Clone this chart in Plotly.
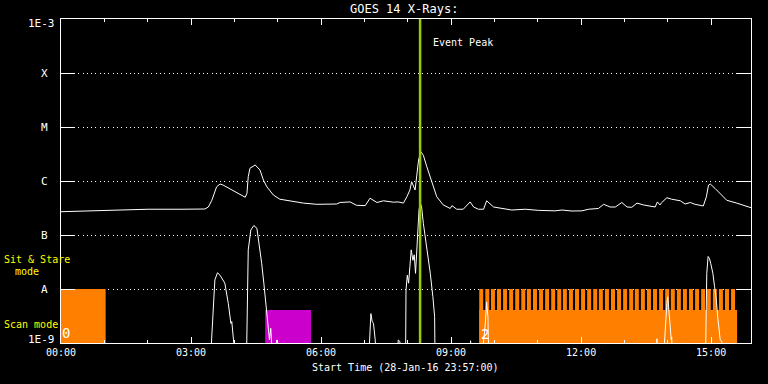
import math
import plotly.graph_objects as go

# ---------------- data ----------------
# long-wavelength channel (upper curve): time in hours from start, flux W/m^2
long_t = [0, 0.62, 1.02, 1.71, 2.01, 2.79, 3.32, 3.40, 3.48, 3.59, 3.67, 3.74, 3.94, 4.17, 4.25,
          4.29, 4.32, 4.36, 4.48, 4.59, 4.67, 4.75, 4.90, 5.05, 5.28, 5.59, 5.90, 6.36, 6.44, 6.67,
          6.82, 7.02, 7.13, 7.21, 7.29, 7.44, 7.67, 7.78, 7.90, 7.98, 8.05, 8.09, 8.13, 8.17, 8.21,
          8.25, 8.30, 8.36, 8.44, 8.56, 8.67, 8.82, 8.98, 9.02, 9.13, 9.28, 9.36, 9.44, 9.52, 9.63,
          9.75, 9.82, 9.98, 10.17, 10.40, 10.71, 11.02, 11.40, 11.56, 11.79, 12.02, 12.17, 12.40,
          12.52, 12.67, 12.79, 12.94, 13.06, 13.17, 13.29, 13.44, 13.71, 13.76, 13.82, 13.86, 13.98,
          14.09, 14.29, 14.40, 14.52, 14.63, 14.82, 14.89, 14.94, 14.98, 15.09, 15.21, 15.36, 15.59,
          15.75, 15.92]
long_f = [2.7e-7, 2.8e-7, 2.86e-7, 2.9e-7, 3.0e-7, 3.0e-7, 3.03e-7, 3.3e-7, 4.4e-7, 7.8e-7, 8.8e-7,
          8.4e-7, 6.8e-7, 5.5e-7, 5.0e-7, 5.9e-7, 1.2e-6, 1.72e-6, 1.98e-6, 1.6e-6, 1.04e-6, 7.8e-7,
          5.5e-7, 4.6e-7, 4.3e-7, 3.9e-7, 3.7e-7, 3.75e-7, 4.0e-7, 4.1e-7, 3.55e-7, 3.5e-7, 4.8e-7,
          4.3e-7, 4.0e-7, 4.3e-7, 4.05e-7, 4.1e-7, 3.9e-7, 5.1e-7, 6.8e-7, 9.7e-7, 8.4e-7, 6.8e-7,
          1.29e-6, 2.45e-6, 3.5e-6, 3.0e-6, 1.84e-6, 9.1e-7, 5.1e-7, 3.6e-7, 3.1e-7, 3.5e-7, 3.0e-7,
          3.0e-7, 3.5e-7, 4.1e-7, 3.3e-7, 3.0e-7, 3.0e-7, 4.3e-7, 3.3e-7, 3.1e-7, 2.9e-7, 3.0e-7,
          2.86e-7, 2.8e-7, 2.9e-7, 2.78e-7, 2.8e-7, 3.0e-7, 3.1e-7, 3.7e-7, 3.3e-7, 3.3e-7, 4.0e-7,
          3.3e-7, 3.26e-7, 3.9e-7, 3.6e-7, 3.3e-7, 4.1e-7, 3.6e-7, 4.0e-7, 4.9e-7, 4.6e-7, 4.3e-7,
          3.75e-7, 4.0e-7, 3.7e-7, 3.45e-7, 5.1e-7, 8.4e-7, 8.8e-7, 7.3e-7, 5.9e-7, 4.4e-7, 3.9e-7,
          3.6e-7, 3.2e-7]

# short-wavelength channel (lower curve); mostly below 1E-9, None = gap
short_t = [3.45, 3.55, 3.61, 3.67, 3.78, 3.86, 3.92, 3.94, 3.98, 4.02, None,
           4.28, 4.29, 4.32, 4.38, 4.44, 4.45, 4.52, 4.55, 4.63, 4.68, 4.73, 4.76, 4.78, 4.81, 4.84, 4.86, 4.88, None,
           4.97, 4.98, 4.99, None,
           7.10, 7.15, 7.18, 7.21, 7.25, 7.27, None,
           7.77, 7.78, 7.82, 7.83, None,
           7.95, 7.96, 7.99, 8.02, 8.05, 8.08, 8.12, 8.15, 8.18, 8.21, 8.23, 8.26, 8.29, 8.32, 8.36, 8.44,
           8.52, 8.58, 8.62, 8.63, None,
           9.44, 9.45, 9.46, None,
           9.71, 9.79, 9.82, 9.85, 9.86, 9.88, None,
           13.74, 13.75, 13.76, None,
           13.90, 13.94, 13.98, 14.00, 14.02, 14.05, 14.08, 14.09, 14.11, None,
           14.87, 14.90, 14.93, 14.96, 14.99, 15.04, 15.08, 15.12, 15.15, 15.18, 15.21, 15.25, 15.27]
short_f = [5e-10, 1.47e-8, 2.0e-8, 1.8e-8, 1.28e-8, 5.4e-9, 2.3e-9, 2.5e-9, 1.14e-9, 5e-10, None,
           5e-10, 2.7e-9, 5.3e-8, 1.24e-7, 1.47e-7, 1.5e-7, 1.33e-7, 9.3e-8, 3.0e-8, 1.28e-8, 5.4e-9, 2.7e-9,
           2.0e-9, 1.14e-9, 1.87e-9, 1.14e-9, 5e-10, None,
           5e-10, 1.14e-9, 5e-10, None,
           5e-10, 3.5e-9, 2.5e-9, 2.3e-9, 1.14e-9, 5e-10, None,
           5e-10, 1.14e-9, 1.06e-9, 5e-10, None,
           5e-10, 9.6e-9, 1.8e-8, 1.28e-8, 2.6e-8, 5.3e-8, 3.4e-8, 4.3e-8, 1.95e-8, 5.3e-8, 1.07e-7, 2.9e-7,
           3.9e-7, 3.3e-7, 1.65e-7, 6.1e-8, 1.95e-8, 7.2e-9, 3.1e-9, 5e-10, None,
           5e-10, 1.1e-9, 5e-10, None,
           5e-10, 2.3e-9, 5.7e-9, 3.1e-9, 1.14e-9, 5e-10, None,
           5e-10, 1.2e-9, 5e-10, None,
           5e-10, 2.0e-9, 5.4e-9, 7.2e-9, 4.1e-9, 2.7e-9, 1.14e-9, 1.3e-9, 5e-10, None,
           5e-10, 1.95e-8, 4.0e-8, 3.7e-8, 3.0e-8, 1.95e-8, 1.1e-8, 6.3e-9, 3.1e-9, 1.74e-9, 1.14e-9,
           1.06e-9, 5e-10]

# observing-mode blocks (start h, end h, top flux, colour)
block_start = [0.0, 4.71, 9.646]
block_end = [1.03, 5.77, 15.60]
block_top = [1e-8, 4.1e-9, 4.1e-9]
block_color = ["#ff8000", "#cc00cc", "#ff8000"]

# sit & stare comb teeth (start h), each 0.092 h long, from 4.1E-9 to 1E-8
tooth_start = [9.65, 9.79, 9.92, 10.06, 10.20, 10.34, 10.48, 10.62, 10.75, 10.89, 11.03, 11.17,
               11.31, 11.45, 11.58, 11.72, 11.86, 12.00, 12.14, 12.28, 12.41, 12.55, 12.69, 12.83,
               12.97, 13.11, 13.24, 13.38, 13.52, 13.66, 13.80, 13.94, 14.07, 14.21, 14.35, 14.49,
               14.63, 14.77, 14.90, 15.04, 15.18, 15.32, 15.46]
tooth_len = 0.092
tooth_low, tooth_high = 4.1e-9, 1e-8

event_peak = 8.285

x_tick_hours = [0, 3, 6, 9, 12, 15]
x_tick_text = ["00:00", "03:00", "06:00", "09:00", "12:00", "15:00"]
x_minor_hours = [1, 2, 4, 5, 7, 8, 10, 11, 13, 14]
class_flux = [1e-8, 1e-7, 1e-6, 1e-5, 1e-4]
class_text = ["A", "B", "C", "M", "X"]

FONT = "DejaVu Sans Mono"
PW, PH, L, T = 690, 324, 61, 19

fig = go.Figure()

# blocks
for s, e, top, c in zip(block_start, block_end, block_top, block_color):
    fig.add_trace(go.Scatter(x=[s, e, e, s, s], y=[1e-9, 1e-9, top, top, 1e-9], mode="lines",
                             fill="toself", fillcolor=c, line=dict(width=0), hoverinfo="skip",
                             showlegend=False))
tx, ty = [], []
for s in tooth_start:
    tx += [s, s + tooth_len, s + tooth_len, s, s, None]
    ty += [tooth_low, tooth_low, tooth_high, tooth_high, tooth_low, None]
fig.add_trace(go.Scatter(x=tx, y=ty, mode="lines", fill="toself", fillcolor="#ff8000",
                         line=dict(width=0), hoverinfo="skip", showlegend=False))

# curves
fig.add_trace(go.Scatter(x=long_t, y=long_f, mode="lines", line=dict(color="white", width=1),
                         showlegend=False))
fig.add_trace(go.Scatter(x=short_t, y=short_f, mode="lines", line=dict(color="white", width=1),
                         connectgaps=False, showlegend=False))

# event peak line
fig.add_trace(go.Scatter(x=[event_peak, event_peak], y=[1e-9, 1e-3], mode="lines",
                         line=dict(color="#99cc00", width=2.5), showlegend=False))

ann = []
def paper_x(px):
    return (px - L) / PW
def paper_y(py):
    return (T + PH - py) / PH

ann.append(dict(text="GOES 14 X-Rays:", xref="paper", yref="paper", x=paper_x(404), y=paper_y(9),
                xanchor="center", yanchor="middle", showarrow=False, font=dict(size=12)))
ann.append(dict(text="Event Peak", xref="x", yref="y", x=8.53, y=-3.44, xanchor="left",
                yanchor="middle", showarrow=False, font=dict(size=10)))
ann.append(dict(text="0", xref="x", yref="y", x=0.115, y=-8.806, xanchor="center",
                yanchor="middle", showarrow=False, font=dict(size=14)))
ann.append(dict(text="2", xref="x", yref="y", x=9.78, y=-8.833, xanchor="center",
                yanchor="middle", showarrow=False, font=dict(size=14)))
for f, t in zip(class_flux, class_text):
    ann.append(dict(text=t, xref="paper", yref="y", x=paper_x(44), y=math.log10(f),
                    xanchor="center", yanchor="middle", showarrow=False, font=dict(size=11)))
ann.append(dict(text="1E-3", xref="paper", yref="y", x=paper_x(57), y=-3, yshift=-4,
                xanchor="right", yanchor="middle", showarrow=False, font=dict(size=11)))
ann.append(dict(text="1E-9", xref="paper", yref="y", x=paper_x(57), y=-9, yshift=3.5,
                xanchor="right", yanchor="middle", showarrow=False, font=dict(size=11)))
yel = dict(color="#ffff00", size=10, family=FONT)
ann.append(dict(text="Sit & Stare", xref="paper", yref="paper", x=paper_x(1.5), y=paper_y(259),
                xanchor="left", yanchor="middle", showarrow=False, font=yel))
ann.append(dict(text="mode", xref="paper", yref="paper", x=paper_x(12.5), y=paper_y(271),
                xanchor="left", yanchor="middle", showarrow=False, font=yel))
ann.append(dict(text="Scan mode", xref="paper", yref="paper", x=paper_x(1.5), y=paper_y(324),
                xanchor="left", yanchor="middle", showarrow=False, font=yel))
ann.append(dict(text="Start Time (28-Jan-16 23:57:00)", xref="paper", yref="paper",
                x=paper_x(405), y=paper_y(368), xanchor="center", yanchor="middle",
                showarrow=False, font=dict(size=10)))

fig.update_layout(
    width=768, height=384,
    margin=dict(l=L, r=768 - L - PW, t=T, b=384 - T - PH),
    paper_bgcolor="black", plot_bgcolor="black",
    font=dict(family=FONT, color="white", size=11),
    annotations=ann,
    xaxis=dict(range=[0, 15.92], showgrid=False, zeroline=False, showline=True, linecolor="white",
               linewidth=1, mirror="ticks", ticks="inside", ticklen=6, tickwidth=1,
               tickcolor="white", tickvals=x_tick_hours, ticktext=x_tick_text,
               tickfont=dict(color="white", size=10, family=FONT),
               minor=dict(tickvals=x_minor_hours, ticks="inside", ticklen=3, tickwidth=1,
                          tickcolor="white", showgrid=False)),
    yaxis=dict(type="log", range=[-9, -3], showline=True, linecolor="white", linewidth=1,
               mirror="ticks", ticks="inside", ticklen=14, tickwidth=1, tickcolor="white",
               tickvals=class_flux, showticklabels=False, showgrid=True, gridcolor="white",
               gridwidth=1, griddash="1px,3.3px", zeroline=False),
)

fig.write_html("out.html")
